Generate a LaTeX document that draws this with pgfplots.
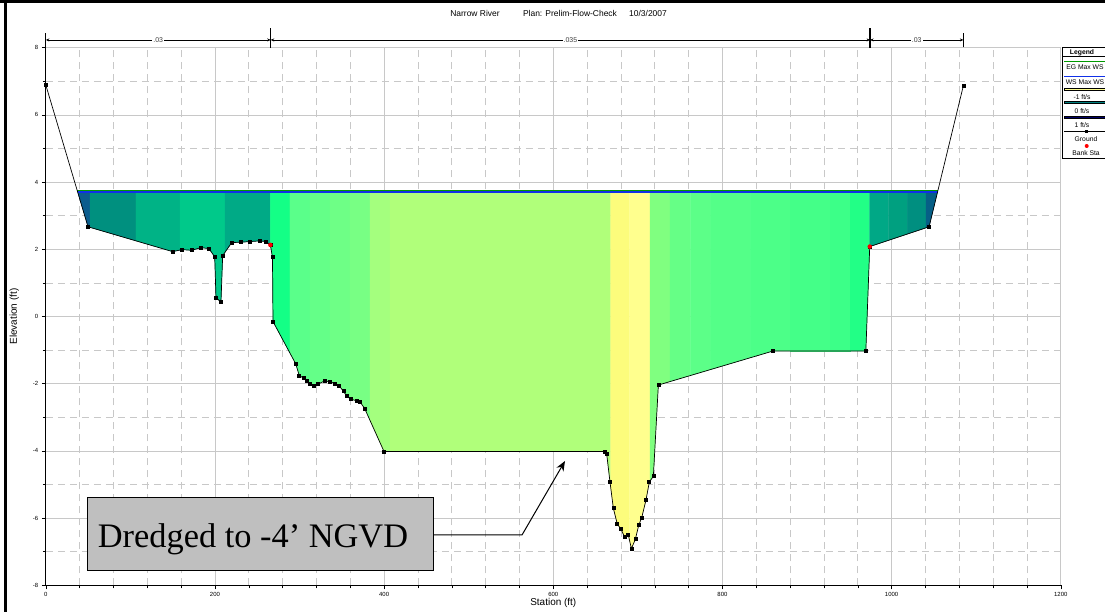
\documentclass[border=0pt]{standalone}
\usepackage{pgfplots}
\pgfplotsset{compat=1.18}
\usepackage{pgfplotstable}
\usetikzlibrary{arrows.meta}
\usepackage{fontspec}
\setmainfont{Liberation Sans}
\newfontfamily\timesfont{Liberation Serif}

\definecolor{gridc}{HTML}{C8C8C8}
\definecolor{s1}{HTML}{0B5C8E}
\definecolor{s2}{HTML}{00907F}
\definecolor{s3}{HTML}{00B386}
\definecolor{s4}{HTML}{00C98A}
\definecolor{s5}{HTML}{00AA86}
\definecolor{m1}{HTML}{14FF86}
\definecolor{m2}{HTML}{5AFF8A}
\definecolor{m3}{HTML}{64FF88}
\definecolor{m4}{HTML}{6EFF86}
\definecolor{m5}{HTML}{78FF84}
\definecolor{m6}{HTML}{A4FF7E}
\definecolor{m7}{HTML}{B0FF7A}
\definecolor{m8}{HTML}{FCFC7C}
\definecolor{m9}{HTML}{FFFF8E}
\definecolor{m10}{HTML}{80FF80}
\definecolor{m11}{HTML}{66FF86}
\definecolor{m12}{HTML}{5CFF88}
\definecolor{m13}{HTML}{54FF88}
\definecolor{m14}{HTML}{4CFF88}
\definecolor{m15}{HTML}{44FF88}
\definecolor{m16}{HTML}{3CFF88}
\definecolor{m17}{HTML}{22FF86}
\definecolor{r1}{HTML}{00A886}
\definecolor{r2}{HTML}{00A080}
\definecolor{r3}{HTML}{008F80}
\definecolor{r4}{HTML}{065F86}
\definecolor{wsblue}{HTML}{1030E8}

\pgfplotstableread{
x y
0 6.89
49.9 2.67
150 1.93
161 1.99
172.5 1.97
183.5 2.05
193 2.02
199.7 1.77
201.2 0.56
207.1 0.43
209.1 1.81
219.8 2.20
230.4 2.21
241.8 2.23
252.9 2.25
260.3 2.23
265.5 2.13
268.0 1.76
268.6 -0.15
295.5 -1.41
299.7 -1.76
304.5 -1.83
308.5 -1.93
312.4 -2.01
317.1 -2.06
322.2 -2.01
330.1 -1.91
336.0 -1.95
342.0 -1.99
347.0 -2.07
351.8 -2.22
355.8 -2.37
360.5 -2.46
367.6 -2.51
371.5 -2.54
377.0 -2.74
399.9 -4.02
661.1 -4.02
663.1 -4.09
667.0 -4.92
671.0 -5.71
675.7 -6.18
680.1 -6.33
684.0 -6.55
688.7 -6.50
692.3 -6.91
697.0 -6.63
701.0 -6.21
704.5 -5.99
709.6 -5.46
713.5 -4.93
718.3 -4.75
724.2 -2.04
859.4 -1.03
969.5 -1.03
974.1 2.08
1044.3 2.67
1084.8 6.87
}\ground

\pgfplotstableread{
x y
265.5 2.13
974.1 2.08
}\banks

\pgfplotsset{slice/.style={fill=#1, draw=#1, line width=0.3bp}}

\begin{document}
\begin{tikzpicture}[x=1bp,y=1bp]
\useasboundingbox (0,0) rectangle (1105,612);
\begin{axis}[
  at={(45.8bp,26.7bp)}, anchor=south west,
  scale only axis, width=1015bp, height=537.6bp,
  xmin=0, xmax=1200, ymin=-8, ymax=8,
  axis x line*=bottom, axis y line*=left,
  axis line style={line width=0.8bp, -},
  xtick={0,200,...,1200}, ytick={-8,-6,...,8},
  minor x tick num=4, minor y tick num=1,
  tick align=outside, major tick length=4bp, minor tick length=3bp,
  tick style={black, line width=0.5bp},
  grid=both,
  major grid style={draw=gridc, line width=0.7bp},
  minor grid style={draw=gridc, dash pattern=on 7bp off 5bp, line width=0.7bp},
  ticklabel style={font=\fontsize{6}{7}\selectfont},
  /pgf/number format/assume math mode=true,
  /pgf/number format/1000 sep={},
  xlabel={Station (ft)}, ylabel={Elevation (ft)},
  label style={font=\fontsize{6}{7}\selectfont},
  every axis y label/.style={at={(axis description cs:-0.031,0.5)}, rotate=90, anchor=center},
  every axis x label/.style={at={(axis description cs:0.5,-0.033)}, anchor=center},
  clip=false,
]
% velocity slices of the wetted area
\addplot[slice=s1] coordinates {(37.6,3.71) (49.9,2.67) (52.3,2.652) (52.3,3.71)} --cycle;
\addplot[slice=s2] coordinates {(52.3,3.71) (52.3,2.652) (106.6,2.251) (106.6,3.71)} --cycle;
\addplot[slice=s3] coordinates {(106.6,3.71) (106.6,2.251) (150,1.93) (158.7,1.977) (158.7,3.71)} --cycle;
\addplot[slice=s4] coordinates {(158.7,3.71) (158.7,1.977) (161,1.99) (172.5,1.97) (183.5,2.05) (193,2.02) (199.7,1.77) (201.2,0.56) (207.1,0.43) (209.1,1.81) (211.9,1.912) (211.9,3.71)} --cycle;
\addplot[slice=s5] coordinates {(211.9,3.71) (211.9,1.912) (219.8,2.20) (230.4,2.21) (241.8,2.23) (252.9,2.25) (260.3,2.23) (265.5,2.13) (265.5,3.71)} --cycle;
\addplot[slice=m1] coordinates {(265.5,3.71) (265.5,2.13) (268.0,1.76) (268.6,-0.15) (288.7,-1.091) (288.7,3.71)} --cycle;
\addplot[slice=m2] coordinates {(288.7,3.71) (288.7,-1.091) (295.5,-1.41) (299.7,-1.76) (304.5,-1.83) (308.5,-1.93) (312.4,-2.01) (312.4,3.71)} --cycle;
\addplot[slice=m3] coordinates {(312.4,3.71) (312.4,-2.01) (317.1,-2.06) (322.2,-2.01) (330.1,-1.91) (336,-1.95) (336,3.71)} --cycle;
\addplot[slice=m4] coordinates {(336,3.71) (336,-1.95) (342,-1.99) (347,-2.07) (351.8,-2.22) (355.8,-2.37) (359.7,-2.445) (359.7,3.71)} --cycle;
\addplot[slice=m5] coordinates {(359.7,3.71) (359.7,-2.445) (360.5,-2.46) (367.6,-2.51) (371.5,-2.54) (377,-2.74) (383.4,-3.098) (383.4,3.71)} --cycle;
\addplot[slice=m6] coordinates {(383.4,3.71) (383.4,-3.098) (399.9,-4.02) (407,-4.02) (407,3.71)} --cycle;
\addplot[slice=m7] coordinates {(407,3.71) (407,-4.02) (661.1,-4.02) (663.1,-4.09) (667,-4.92) (667.9,-5.098) (667.9,3.71)} --cycle;
\addplot[slice=m8] coordinates {(667.9,3.71) (667.9,-5.098) (671,-5.71) (675.7,-6.18) (680.1,-6.33) (684,-6.55) (688.7,-6.5) (690,-6.648) (690,3.71)} --cycle;
\addplot[slice=m9] coordinates {(690,3.71) (690,-6.648) (692.3,-6.91) (697,-6.63) (701,-6.21) (704.5,-5.99) (709.6,-5.46) (713.5,-4.93) (714.4,-4.896) (714.4,3.71)} --cycle;
\addplot[slice=m10] coordinates {(714.4,3.71) (714.4,-4.896) (718.3,-4.75) (724.2,-2.04) (738,-1.937) (738,3.71)} --cycle;
\addplot[slice=m11] coordinates {(738,3.71) (738,-1.937) (762,-1.758) (762,3.71)} --cycle;
\addplot[slice=m12] coordinates {(762,3.71) (762,-1.758) (786,-1.578) (786,3.71)} --cycle;
\addplot[slice=m13] coordinates {(786,3.71) (786,-1.578) (833,-1.227) (833,3.71)} --cycle;
\addplot[slice=m14] coordinates {(833,3.71) (833,-1.227) (859.4,-1.03) (880,-1.03) (880,3.71)} --cycle;
\addplot[slice=m15] coordinates {(880,3.71) (880,-1.03) (927,-1.03) (927,3.71)} --cycle;
\addplot[slice=m16] coordinates {(927,3.71) (927,-1.03) (951,-1.03) (951,3.71)} --cycle;
\addplot[slice=m17] coordinates {(951,3.71) (951,-1.03) (969.5,-1.03) (974.1,2.08) (974.1,3.71)} --cycle;
\addplot[slice=r1] coordinates {(974.1,3.71) (974.1,2.08) (996.1,2.265) (996.1,3.71)} --cycle;
\addplot[slice=r2] coordinates {(996.1,3.71) (996.1,2.265) (1018.6,2.454) (1018.6,3.71)} --cycle;
\addplot[slice=r3] coordinates {(1018.6,3.71) (1018.6,2.454) (1040.7,2.64) (1040.7,3.71)} --cycle;
\addplot[slice=r4] coordinates {(1040.7,3.71) (1040.7,2.64) (1044.3,2.67) (1054.3,3.71)} --cycle;
% water surface and energy grade
\addplot[draw=green!60!black, line width=0.6bp] coordinates {(37.4,3.745) (1054.4,3.745)};
\addplot[draw=wsblue, line width=1.3bp] coordinates {(37.6,3.705) (1054.3,3.705)};
% ground and bank stations
\addplot[black, line width=0.7bp, mark=square*, mark size=1.5bp, mark options={solid}] table {\ground};
\addplot[only marks, mark=*, mark size=2bp, red, mark options={draw=red, fill=red}] table {\banks};
% n-value bar
\draw[line width=0.6bp, {Stealth[length=3.5bp,width=3bp]}-{Stealth[length=3.5bp,width=3bp]}] (axis cs:0,8.23) -- node[fill=white, inner sep=1bp, font=\fontsize{7}{8}\selectfont, text=black!75] {.03} (axis cs:265.9,8.23);
\draw[line width=0.6bp, {Stealth[length=3.5bp,width=3bp]}-{Stealth[length=3.5bp,width=3bp]}] (axis cs:265.9,8.23) -- node[fill=white, inner sep=1bp, font=\fontsize{7}{8}\selectfont, text=black!75] {.035} (axis cs:974.5,8.23);
\draw[line width=0.6bp, {Stealth[length=3.5bp,width=3bp]}-{Stealth[length=3.5bp,width=3bp]}] (axis cs:974.5,8.23) -- node[fill=white, inner sep=1bp, font=\fontsize{7}{8}\selectfont, text=black!75] {.03} (axis cs:1084.8,8.23);
\draw[line width=0.8bp] (axis cs:0,7.93) -- (axis cs:0,8.44);
\draw[line width=1.5bp] (axis cs:265.9,7.99) -- (axis cs:265.9,8.59);
\draw[line width=1.5bp] (axis cs:974.5,7.99) -- (axis cs:974.5,8.59);
\draw[line width=0.8bp] (axis cs:1084.8,8.01) -- (axis cs:1084.8,8.43);
\end{axis}
% title
\node[font=\fontsize{8.5}{9}\selectfont] at (475,598.7) {Narrow River};
\node[font=\fontsize{8.5}{9}\selectfont] at (570,598.7) {Plan: Prelim-Flow-Check};
\node[font=\fontsize{8.5}{9}\selectfont] at (648,598.7) {10/3/2007};
% frame
\fill[black] (4,0) rectangle (6.5,612);
\fill[black] (0,609.3) rectangle (1105,612);
% annotation
\draw[fill=black!25, line width=0.8bp] (87,42) rectangle (433,115);
\node[anchor=base, font=\timesfont\fontsize{34.5}{37}\selectfont] at (253,64) {Dredged to -4’ NGVD};
\draw[line width=1bp, -{Stealth[length=10bp,width=8bp]}] (433,77) -- (522,77) -- (565,151);
% legend
\draw[fill=white, line width=0.7bp] (1062.7,564.7) rectangle (1120,453.7);
\node[font=\bfseries\fontsize{6.8}{7}\selectfont] at (1082,559.6) {Legend};
\draw[line width=0.5bp] (1062.7,555.3) -- (1120,555.3);
\draw[green!60!black, line width=0.8bp] (1064,550.3) -- (1120,550.3);
\node[font=\fontsize{6.8}{7}\selectfont] at (1085,545.3) {EG Max WS};
\draw[wsblue, line width=0.8bp] (1064,536) -- (1120,536);
\node[font=\fontsize{6.8}{7}\selectfont] at (1085,530.3) {WS Max WS};
\draw[fill=m9, line width=0.5bp] (1064,521.3) rectangle (1120,523.7);
\node[font=\fontsize{6.8}{7}\selectfont] at (1082,515.3) {-1 ft/s};
\draw[fill=teal, line width=0.5bp] (1064,508.7) rectangle (1120,511.2);
\node[font=\fontsize{6.8}{7}\selectfont] at (1082,501.3) {0 ft/s};
\draw[fill=blue!40!black, line width=0.5bp] (1064,493.3) rectangle (1120,496);
\node[font=\fontsize{6.8}{7}\selectfont] at (1082,487) {1 ft/s};
\draw[line width=0.6bp] (1064,480.3) -- (1120,480.3);
\fill[black] (1084.5,478.8) rectangle (1087.5,481.8);
\node[font=\fontsize{6.8}{7}\selectfont] at (1086,473) {Ground};
\fill[red] (1086.7,466) circle (2bp);
\node[font=\fontsize{6.8}{7}\selectfont] at (1086,459.3) {Bank Sta};
\end{tikzpicture}
\end{document}
